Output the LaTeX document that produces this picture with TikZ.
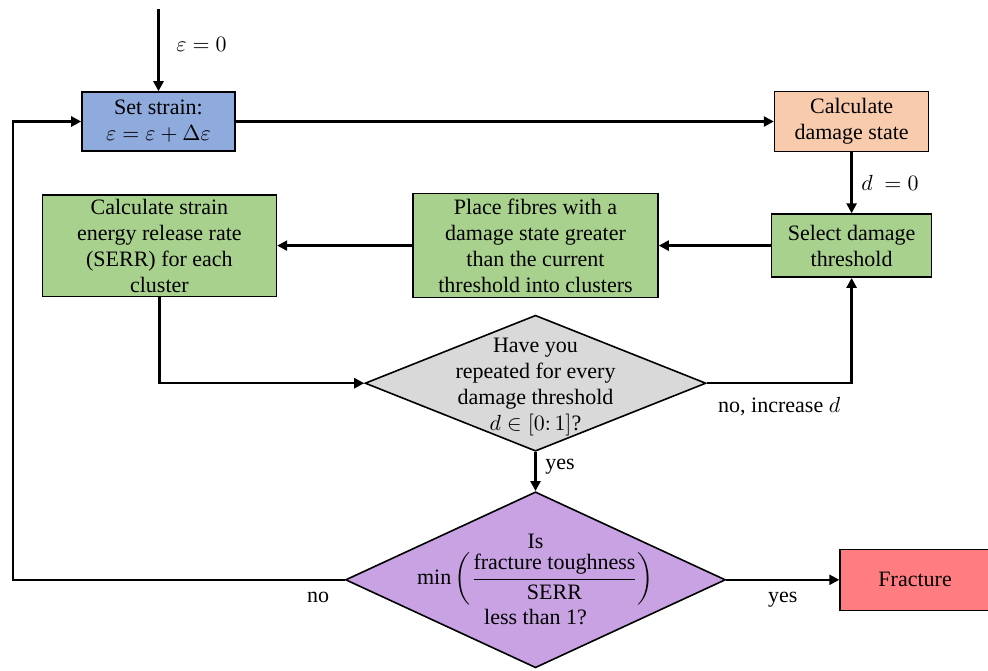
\documentclass[tikz,border=0pt]{standalone}
\usepackage{amsmath}
\usepackage{fontspec}
\setmainfont{Liberation Serif}
\usepackage{xcolor}
\usetikzlibrary{arrows.meta, positioning, shapes.geometric}

\definecolor{strainblue}{HTML}{8FAADC}
\definecolor{stateorange}{HTML}{F8CBAD}
\definecolor{stepgreen}{HTML}{A9D18E}
\definecolor{askgray}{HTML}{D9D9D9}
\definecolor{askpurple}{HTML}{C8A2E2}
\definecolor{failred}{HTML}{FF7C80}

\begin{document}
\begin{tikzpicture}[
    every node/.style={font=\fontsize{11}{13}\selectfont},
    box/.style={rectangle, draw, line width=0.8pt, align=center,
        inner sep=2pt},
    decision/.style={diamond, draw, line width=0.8pt, inner sep=0pt},
    flow/.style={-{Triangle[length=5pt, width=5pt]}, line width=1.2pt},
]

\useasboundingbox (0,0) rectangle (494pt,-335pt);

\node[box, fill=strainblue, minimum width=76.5pt, minimum height=29.5pt]
    (setstrain) at (79.25pt,-60.75pt)
    {Set strain:\\ $\varepsilon = \varepsilon + \Delta\varepsilon$};
\coordinate[above=41pt of setstrain] (start);
\node[box, fill=stateorange, minimum width=77pt, minimum height=30pt,
    right=269pt of setstrain] (damage) {Calculate\\ damage state};
\node[box, fill=stepgreen, minimum width=80pt, minimum height=31.5pt,
    below=30.5pt of damage] (select) {Select damage\\ threshold};
\node[box, fill=stepgreen, minimum width=122.5pt, minimum height=52pt,
    left=56pt of select] (place)
    {Place fibres with a\\ damage state greater\\
     than the current\\ threshold into clusters};
\node[box, fill=stepgreen, minimum width=117pt, minimum height=50pt,
    left=67.5pt of place] (serr)
    {Calculate strain\\ energy release rate\\ (SERR) for each\\ cluster};
\node[decision, fill=askgray, minimum width=170.5pt, minimum height=68pt,
    below=8pt of place] (repeat) {};
\node[align=center, yshift=-2pt] (repeattext) at (repeat)
    {Have you\\ repeated for every\\ damage threshold\\
     $d \in [0{:}\,1]$?};
\node[decision, fill=askpurple, minimum width=190pt, minimum height=88pt,
    below=19.5pt of repeat] (check) {};
\node[align=center] (checktext) at (check)
    {Is\\[1pt]
     $\text{min}\left(\dfrac{\text{fracture toughness}}{\text{SERR}}\right)$\\[1pt]
     less than 1?};
\node[box, fill=failred, minimum width=75pt, minimum height=30.5pt,
    right=56.5pt of check] (fracture) {Fracture};

% Main loop
\draw[flow] (start) -- node[right=5pt, pos=0.43] {$\varepsilon = 0$}
    (setstrain);
\draw[flow] (setstrain) -- (damage);
\draw[flow] (damage) -- node[right=1pt] {$d\ = 0$} (select);
\draw[flow] (select) -- (place);
\draw[flow] (place) -- (serr);
\draw[flow] (serr.south) |- (repeat.west);
\draw[flow] (repeat.east) -|
    node[below=3pt, pos=0.25] {no, increase $d$}
    (select.south);
\draw[flow] (repeat.south) -- node[right=1pt, pos=0.37] {yes} (check.north);
\draw[flow] (check.west) -|
    node[below=2pt, pos=0.04] {no}
    ([xshift=-34pt]setstrain.west) -- (setstrain.west);
\draw[flow] (check.east) -- node[below=2pt] {yes} (fracture);

\end{tikzpicture}
\end{document}
